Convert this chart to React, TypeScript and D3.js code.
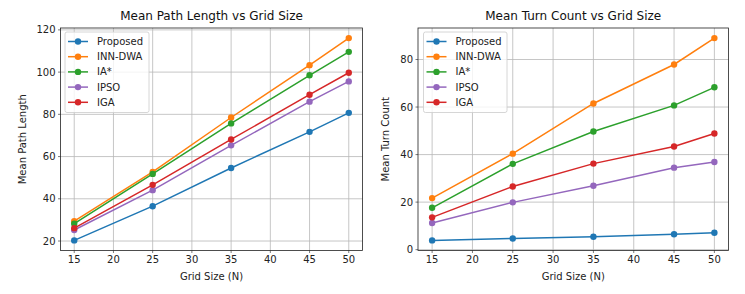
import React from 'react'
import * as d3 from 'd3'

const gridSizes = [15, 25, 35, 45, 50]
const seriesNames = ['Proposed', 'INN-DWA', 'IA*', 'IPSO', 'IGA']
const seriesColors = ['#1f77b4', '#ff7f0e', '#2ca02c', '#9467bd', '#d62728']

const pathProposed = [20.3, 36.5, 54.6, 71.7, 80.7]
const pathInnDwa = [29.4, 52.7, 78.5, 103.3, 116.1]
const pathIAStar = [28.2, 51.8, 75.7, 98.5, 109.6]
const pathIpso = [25.2, 44.1, 65.3, 86.0, 95.6]
const pathIga = [26.1, 46.6, 68.1, 89.3, 99.7]

const turnProposed = [3.9, 4.7, 5.4, 6.5, 7.1]
const turnInnDwa = [21.7, 40.4, 61.5, 77.9, 89.0]
const turnIAStar = [17.6, 36.1, 49.7, 60.7, 68.3]
const turnIpso = [11.2, 19.9, 26.9, 34.5, 36.9]
const turnIga = [13.6, 26.6, 36.2, 43.4, 48.9]

const xTicks = [15, 20, 25, 30, 35, 40, 45, 50]
const pathTicks = [20, 40, 60, 80, 100, 120]
const turnTicks = [0, 20, 40, 60, 80]

const FONT = 'DejaVu Sans, sans-serif'

interface PanelProps {
  title: string
  yLabel: string
  data: number[][]
  yTicks: number[]
  left: number
  right: number
  yLabelX: number
  legendX: number
  legendW: number
}

function Panel({ title, yLabel, data, yTicks, left, right, yLabelX, legendX, legendW }: PanelProps) {
  const top = 28
  const bottom = 250.5

  // matplotlib-style 5% margins
  const xMin = d3.min(gridSizes)!
  const xMax = d3.max(gridSizes)!
  const xPad = (xMax - xMin) * 0.05
  const x = d3.scaleLinear().domain([xMin - xPad, xMax + xPad]).range([left, right])

  const yMin = d3.min(data, s => d3.min(s))!
  const yMax = d3.max(data, s => d3.max(s))!
  const yPad = (yMax - yMin) * 0.05
  const y = d3.scaleLinear().domain([yMin - yPad, yMax + yPad]).range([bottom, top])

  const line = d3.line<number>()
    .x((_, i) => x(gridSizes[i]))
    .y(d => y(d))

  const legendTop = 32
  const rowH = 15.2

  return (
    <g>
      {/* grid */}
      {xTicks.map(t => (
        <line key={'gx' + t} x1={x(t)} x2={x(t)} y1={top} y2={bottom} stroke="#b8b8b8" strokeWidth={0.8} />
      ))}
      {yTicks.map(t => (
        <line key={'gy' + t} x1={left} x2={right} y1={y(t)} y2={y(t)} stroke="#b8b8b8" strokeWidth={0.8} />
      ))}

      {/* series */}
      {data.map((s, i) => (
        <g key={seriesNames[i]}>
          <path d={line(s) || ''} fill="none" stroke={seriesColors[i]} strokeWidth={1.5} />
          {s.map((v, j) => (
            <circle key={j} cx={x(gridSizes[j])} cy={y(v)} r={3.2} fill={seriesColors[i]} />
          ))}
        </g>
      ))}

      {/* frame */}
      <rect x={left} y={top} width={right - left} height={bottom - top} fill="none" stroke="#222" strokeWidth={0.8} />

      {/* x ticks */}
      {xTicks.map(t => (
        <g key={'tx' + t}>
          <line x1={x(t)} x2={x(t)} y1={bottom} y2={bottom + 2.5} stroke="#222" strokeWidth={0.6} />
          <text x={x(t)} y={bottom + 12} textAnchor="middle" fontSize={10} fontFamily={FONT} fill="#222">{t}</text>
        </g>
      ))}
      {/* y ticks */}
      {yTicks.map(t => (
        <g key={'ty' + t}>
          <line x1={left - 2.5} x2={left} y1={y(t)} y2={y(t)} stroke="#222" strokeWidth={0.6} />
          <text x={left - 5} y={y(t)} dy="0.35em" textAnchor="end" fontSize={10} fontFamily={FONT} fill="#222">{t}</text>
        </g>
      ))}

      {/* labels */}
      <text x={(left + right) / 2} y={20} textAnchor="middle" fontSize={12} fontFamily={FONT} fill="#111">{title}</text>
      <text x={(left + right) / 2} y={280} textAnchor="middle" fontSize={10} fontFamily={FONT} fill="#222">Grid Size (N)</text>
      <text transform={`translate(${yLabelX},${(top + bottom) / 2}) rotate(-90)`} textAnchor="middle" fontSize={10} fontFamily={FONT} fill="#222">{yLabel}</text>

      {/* legend */}
      <rect x={legendX} y={legendTop} width={legendW} height={80.5} rx={2} fill="#fff" fillOpacity={0.8} stroke="#cccccc" strokeWidth={0.8} />
      {seriesNames.map((n, i) => {
        const ry = legendTop + 9.5 + i * rowH
        return (
          <g key={'lg' + n}>
            <line x1={legendX + 3} x2={legendX + 23} y1={ry} y2={ry} stroke={seriesColors[i]} strokeWidth={1.5} />
            <circle cx={legendX + 13} cy={ry} r={3.2} fill={seriesColors[i]} />
            <text x={legendX + 32} y={ry} dy="0.35em" fontSize={10} fontFamily={FONT} fill="#222">{n}</text>
          </g>
        )
      })}
    </g>
  )
}

export default function App() {
  return (
    <svg width={745} height={294} style={{ position: 'absolute', left: 0, top: 0, background: '#fff' }}>
      <rect width={745} height={294} fill="#fff" />
      <Panel
        title="Mean Path Length vs Grid Size"
        yLabel="Mean Path Length"
        data={[pathProposed, pathInnDwa, pathIAStar, pathIpso, pathIga]}
        yTicks={pathTicks}
        left={60.5}
        right={362.5}
        yLabelX={26}
        legendX={65}
        legendW={84}
      />
      <Panel
        title="Mean Turn Count vs Grid Size"
        yLabel="Mean Turn Count"
        data={[turnProposed, turnInnDwa, turnIAStar, turnIpso, turnIga]}
        yTicks={turnTicks}
        left={418}
        right={728.5}
        yLabelX={389}
        legendX={423.5}
        legendW={83.5}
      />
    </svg>
  )
}
